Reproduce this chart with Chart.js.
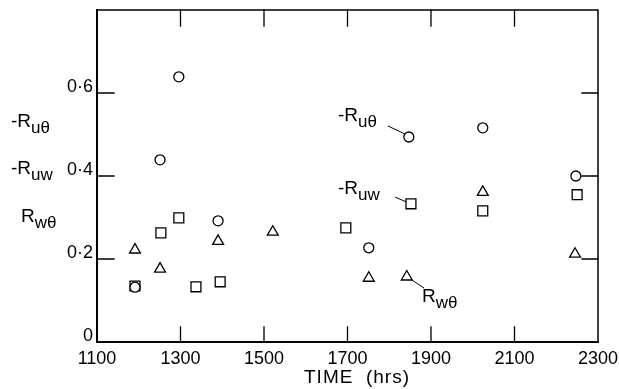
<!DOCTYPE html>
<html>
<head>
<meta charset="utf-8">
<script src="https://cdn.jsdelivr.net/npm/chart.js@4.4.0/dist/chart.umd.min.js"></script>
<style>
  html, body { margin: 0; padding: 0; background: #fff; }
  #wrap { width: 619px; height: 389px; }
</style>
</head>
<body>
<div id="wrap"><canvas id="chart" width="619" height="389"></canvas></div>
<script>
// -R_u theta (circles)
const ruthTimes = [1191, 1251, 1296, 1390, 1751, 1847, 2024, 2247];
const ruthValues = [0.132, 0.439, 0.639, 0.292, 0.227, 0.494, 0.516, 0.400];
// -R_uw (squares)
const ruwTimes = [1191, 1253, 1296, 1337, 1395, 1696, 1852, 2024, 2250];
const ruwValues = [0.135, 0.263, 0.299, 0.133, 0.145, 0.275, 0.333, 0.316, 0.355];
// R_w theta (triangles)
const rwthTimes = [1191, 1251, 1390, 1521, 1751, 1842, 2024, 2245];
const rwthValues = [0.222, 0.176, 0.243, 0.265, 0.154, 0.157, 0.361, 0.212];

const xTicks = [1100, 1300, 1500, 1700, 1900, 2100, 2300];
const yTicks = [0, 0.2, 0.4, 0.6];

const FONT = "'Liberation Sans', Arial, sans-serif";
const tickFont = { family: FONT, size: 18, lineHeight: 1 };

function toPoints(xs, ys) {
  return xs.map((x, i) => ({ x: x, y: ys[i] }));
}

function drawSub(ctx, main, sub, x, y) {
  ctx.font = "19px " + FONT;
  ctx.textAlign = "left";
  ctx.textBaseline = "alphabetic";
  ctx.fillText(main, x, y);
  const w = ctx.measureText(main).width;
  ctx.font = "17px " + FONT;
  ctx.fillText(sub, x + w, y + 6);
  return x + w + ctx.measureText(sub).width;
}

const framePlugin = {
  id: "frame",
  beforeDatasetsDraw(chart) {
    const { ctx, chartArea: a, scales } = chart;
    ctx.save();
    ctx.strokeStyle = "#000";
    ctx.lineCap = "square";
    // left and bottom axis lines
    ctx.lineWidth = 2;
    ctx.beginPath();
    ctx.moveTo(a.left, a.top);
    ctx.lineTo(a.left, a.bottom);
    ctx.lineTo(a.right, a.bottom);
    ctx.stroke();
    // top and right
    ctx.lineWidth = 1.5;
    ctx.beginPath();
    ctx.moveTo(a.left, a.top);
    ctx.lineTo(a.right, a.top);
    ctx.lineTo(a.right, a.bottom);
    ctx.stroke();
    // inward ticks
    ctx.lineWidth = 1.3;
    ctx.beginPath();
    xTicks.slice(1, -1).forEach(v => {
      const px = scales.x.getPixelForValue(v);
      ctx.moveTo(px, a.bottom);
      ctx.lineTo(px, a.bottom - 15);
      ctx.moveTo(px, a.top);
      ctx.lineTo(px, a.top + 16);
    });
    yTicks.slice(1).forEach(v => {
      const py = scales.y.getPixelForValue(v);
      ctx.moveTo(a.left, py);
      ctx.lineTo(a.left + 17, py);
      ctx.moveTo(a.right, py);
      ctx.lineTo(a.right - 16, py);
    });
    ctx.stroke();
    ctx.restore();
  },
  afterDraw(chart) {
    const { ctx, scales } = chart;
    ctx.save();
    ctx.fillStyle = "#000";
    ctx.strokeStyle = "#000";
    ctx.lineWidth = 1;

    // axis title
    ctx.font = "19px " + FONT;
    ctx.letterSpacing = "1px";
    ctx.textAlign = "center";
    ctx.textBaseline = "middle";
    ctx.fillText("TIME  (hrs)", 357, 378);
    ctx.letterSpacing = "0px";

    // labels at the left of the axis
    drawSub(ctx, "-R", "uθ", 11, 127);
    drawSub(ctx, "-R", "uw", 11, 174);
    drawSub(ctx, "R", "wθ", 21, 222);

    // labels inside the plot with leaders
    const cx = scales.x.getPixelForValue(ruthTimes[5]);
    const cy = scales.y.getPixelForValue(ruthValues[5]);
    drawSub(ctx, "-R", "uθ", 338, 121);
    ctx.beginPath();
    ctx.moveTo(388, 126);
    ctx.lineTo(cx - 4, cy - 3);
    ctx.stroke();

    const sx = scales.x.getPixelForValue(ruwTimes[6]);
    const sy = scales.y.getPixelForValue(ruwValues[6]);
    drawSub(ctx, "-R", "uw", 338, 194);
    ctx.beginPath();
    ctx.moveTo(395, 197);
    ctx.lineTo(sx - 5, sy - 2);
    ctx.stroke();

    const tx = scales.x.getPixelForValue(rwthTimes[5]);
    const ty = scales.y.getPixelForValue(rwthValues[5]);
    drawSub(ctx, "R", "wθ", 422, 302);
    ctx.beginPath();
    ctx.moveTo(tx + 5, ty + 3);
    ctx.lineTo(424, 288);
    ctx.stroke();
    ctx.restore();
  }
};

const pointStyleBase = {
  showLine: false,
  backgroundColor: "#fff",
  borderColor: "#000",
  borderWidth: 1.3
};

new Chart(document.getElementById("chart"), {
  type: "scatter",
  data: {
    datasets: [
      Object.assign({ label: "-Ruθ", data: toPoints(ruthTimes, ruthValues), pointStyle: "circle", pointRadius: 5 }, pointStyleBase),
      Object.assign({ label: "-Ruw", data: toPoints(ruwTimes, ruwValues), pointStyle: "rect", pointRadius: 7 }, pointStyleBase),
      Object.assign({ label: "Rwθ", data: toPoints(rwthTimes, rwthValues), pointStyle: "triangle", pointRadius: 6.3 }, pointStyleBase)
    ]
  },
  options: {
    responsive: false,
    animation: false,
    layout: { padding: { top: 10, right: 21, left: 0, bottom: 0 } },
    plugins: { legend: { display: false }, tooltip: { enabled: false } },
    scales: {
      x: {
        type: "linear",
        min: 1100,
        max: 2300,
        afterBuildTicks: s => { s.ticks = xTicks.map(v => ({ value: v })); },
        afterFit: s => { s.height = 47; s.paddingLeft = 0; s.paddingRight = 0; },
        grid: { display: false, drawTicks: false },
        border: { display: false },
        ticks: { color: "#000", font: tickFont, padding: 8, maxRotation: 0, autoSkip: false, callback: v => String(v) }
      },
      y: {
        min: 0,
        max: 0.8,
        afterBuildTicks: s => { s.ticks = yTicks.map(v => ({ value: v })); },
        afterFit: s => { s.width = 97; s.paddingTop = 0; s.paddingBottom = 0; },
        grid: { display: false, drawTicks: false },
        border: { display: false },
        ticks: {
          color: "#000",
          font: tickFont,
          padding: 4,
          labelOffset: -6,
          callback: v => v === 0 ? "0" : v.toFixed(1).replace(".", "·")
        }
      }
    }
  },
  plugins: [framePlugin]
});
</script>
</body>
</html>
